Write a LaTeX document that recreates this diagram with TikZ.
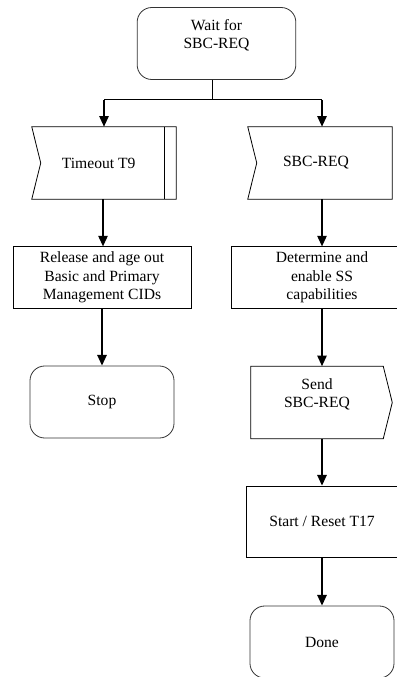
\documentclass[tikz,border=0pt]{standalone}
\usepackage{fontspec}
\setmainfont{Liberation Serif}
\usepackage{tikz}
\usetikzlibrary{arrows.meta,calc}

\begin{document}
\begin{tikzpicture}[x=0.75pt,y=0.75pt,yscale=-1,xscale=1,
  font=\fontsize{11.7}{14}\selectfont,
  stateBox/.style={draw=black!80,line width=0.6pt,rounded corners=11pt,minimum width=108pt,minimum height=54pt,align=center,inner sep=0pt},
  taskBox/.style={draw,line width=0.6pt,minimum height=46pt,align=center,inner sep=0pt},
  sigBox/.style={minimum width=108pt,minimum height=54pt,align=center,inner sep=0pt},
  outline/.style={line width=0.6pt},
  thinLine/.style={line width=0.75pt},
  flowArrow/.style={line width=1.3pt,-{Triangle[length=8pt,width=7pt]}}]
\useasboundingbox (0,0) rectangle (396,677);

%column guides
\coordinate (lcol) at (103,0);
\coordinate (rcol) at (322,0);

%Shape: Rounded Rect [id:wait]
\node[stateBox,minimum width=119pt] (wait) at (216.5,43.5) {Wait for\\SBC-REQ\\~};
%split point under the state
\coordinate (split) at (212,100);

%Shape: Receive signal [id:timeout]
\node[sigBox] (timeout) at (104,163) {\hspace*{-8pt}Timeout T9};
\draw[outline] (timeout.north west) -- (timeout.north east) -- (timeout.south east) -- (timeout.south west) -- ($(timeout.west)+(9,0)$) -- cycle ;
\draw[outline] ($(timeout.north east)+(-12,0)$) -- ($(timeout.south east)+(-12,0)$) ;

%Shape: Receive signal [id:sbcin]
\node[sigBox] (sbcin) at (320,163) {\hspace*{-6pt}SBC-REQ};
\draw[outline] (sbcin.north west) -- (sbcin.north east) -- (sbcin.south east) -- (sbcin.south west) -- ($(sbcin.west)+(9,0)$) -- cycle ;

%Shape: Rectangle [id:release]
\node[taskBox,minimum width=133.5pt] (release) at (102,277.5) {Release and age out\\Basic and Primary\\Management CIDs};
%Shape: Rectangle [id:determine]
\node[taskBox,minimum width=136.5pt] (determine) at (322,277.5) {Determine and\\enable SS\\capabilities};

%Shape: Rounded Rect [id:stop]
\node[stateBox] (stop) at (102,402) {Stop};

%Shape: Send signal [id:send]
\node[sigBox,minimum width=99pt] (send) at (317,402.5) {Send\\SBC-REQ\\~};
\draw[outline] (send.north west) -- (send.north east) -- ($(send.east)+(9,0)$) -- (send.south east) -- (send.south west) -- cycle ;

%Shape: Rectangle [id:start]
\node[taskBox,minimum width=114pt,minimum height=53.25pt] (start) at (322,521.5) {Start / Reset T17};

%Shape: Rounded Rect [id:done]
\node[stateBox] (done) at (322,642) {Done};

%Straight Lines
\draw[thinLine] (wait.south -| split) -- (split) ;
\draw[thinLine] (split -| timeout.north) -- (split -| rcol) ;
\draw[flowArrow] (split -| timeout.north) -- (timeout.north) ;
\draw[flowArrow] (split -| rcol) -- (sbcin.north -| rcol) ;
\draw[flowArrow] (timeout.south -| lcol) -- (release.north -| lcol) ;
\draw[flowArrow] (release.south) -- (stop.north) ;
\draw[flowArrow] (sbcin.south -| rcol) -- (determine.north) ;
\draw[flowArrow] (determine.south) -- (send.north -| rcol) ;
\draw[flowArrow] (send.south -| rcol) -- (start.north) ;
\draw[flowArrow] (start.south) -- (done.north) ;

\end{tikzpicture}
\end{document}
